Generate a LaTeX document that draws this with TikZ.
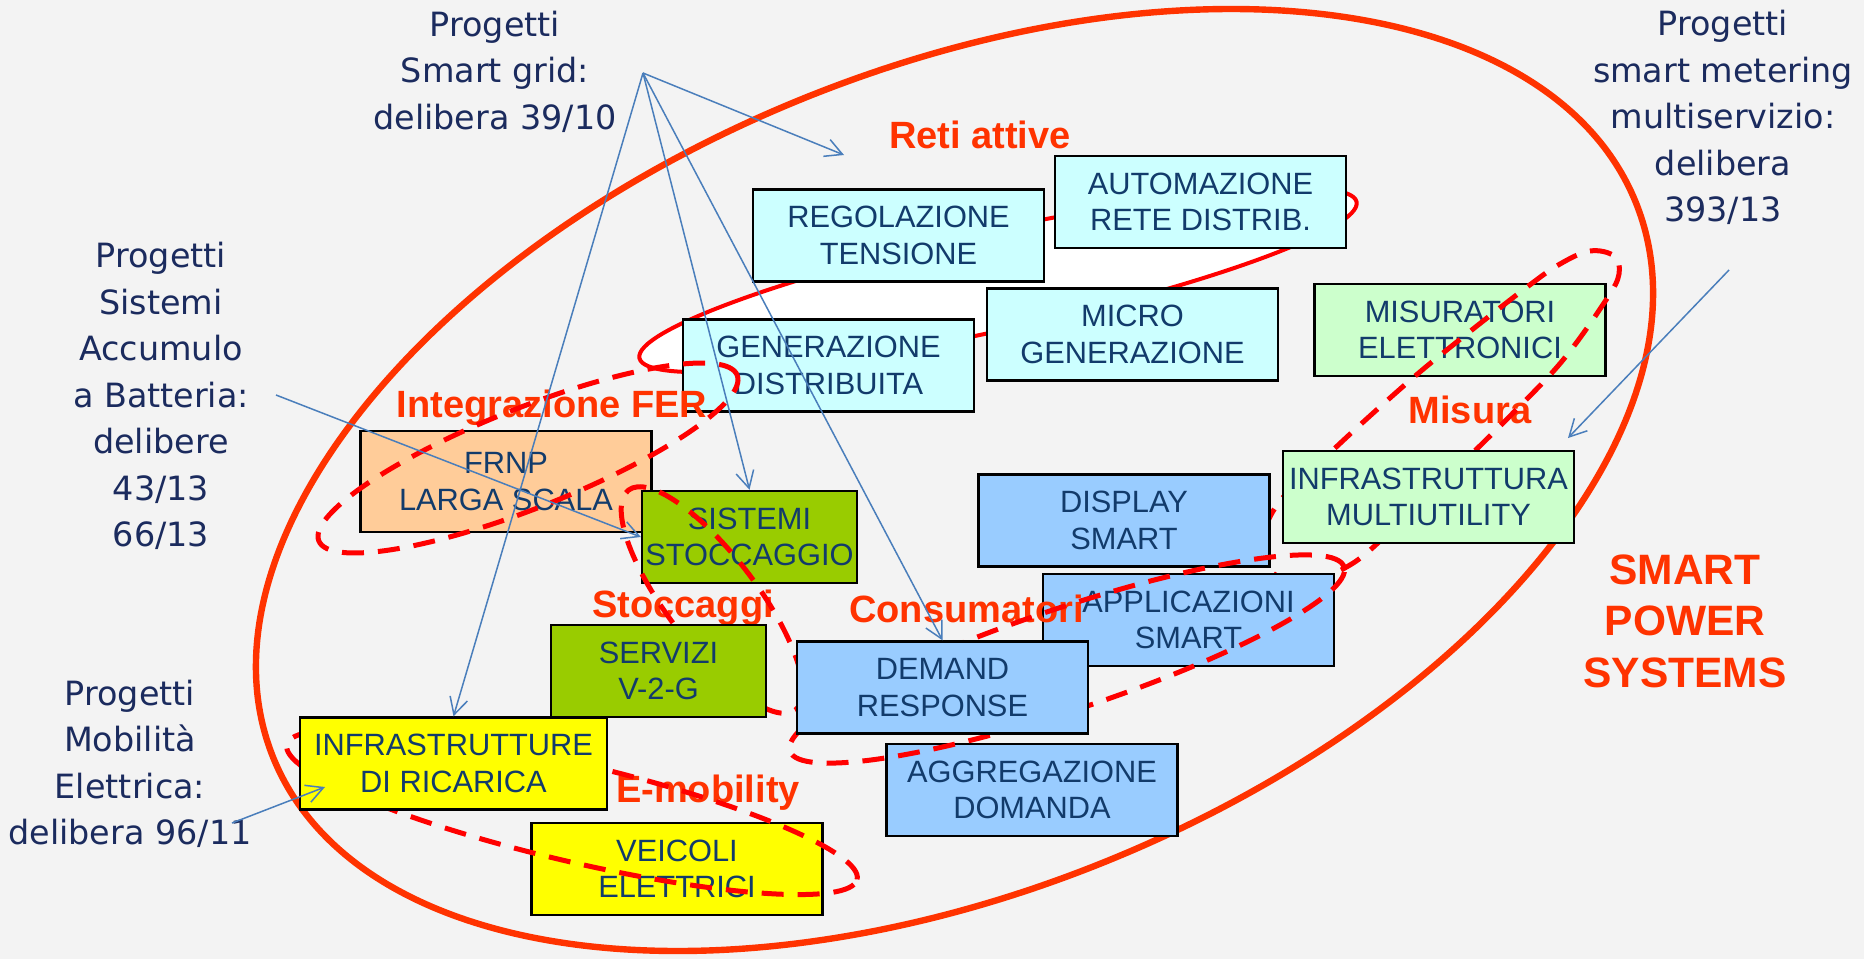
\documentclass[tikz,border=0pt]{standalone}
\usepackage{fontspec}
\setmainfont{Liberation Sans}
\newfontfamily\dejavu{DejaVu Sans}
\usetikzlibrary{arrows.meta}
\definecolor{bg}{HTML}{F3F3F3}
\definecolor{ringred}{HTML}{FF3300}
\definecolor{loopred}{HTML}{FF0000}
\definecolor{labred}{HTML}{FF3300}
\definecolor{boxtext}{HTML}{123B6B}
\definecolor{projcol}{HTML}{1B2B5E}
\definecolor{arrowblue}{HTML}{4A7EBB}
\definecolor{cyanbox}{HTML}{CCFFFF}
\definecolor{mintbox}{HTML}{CCFFCC}
\definecolor{bluebox}{HTML}{99CCFF}
\definecolor{peachbox}{HTML}{FFCC99}
\definecolor{olivebox}{HTML}{99CC00}
\definecolor{yellowbox}{HTML}{FFFF00}
\tikzset{
  box/.style={draw=black, line width=1.2pt, align=center, inner sep=0pt,
    font=\fontsize{15.4}{18.35}\selectfont, text=boxtext,
    minimum width=145.5pt, minimum height=46pt},
  projtext/.style={font=\dejavu\fontsize{16.7}{23.25}\selectfont, text=projcol, align=center, inner sep=0pt},
  redlab/.style={font=\bfseries\fontsize{19}{22}\selectfont, text=labred, inner sep=0pt},
  bigring/.style={draw=ringred, line width=3.2pt},
  solidloop/.style={draw=loopred, line width=2pt, fill=white},
  dashloop/.style={draw=loopred, line width=2.5pt, dash pattern=on 11pt off 7pt},
  bluearrow/.style={draw=arrowblue, line width=0.75pt, -{Straight Barb[length=8.5pt,width=9pt,line width=0.75pt]}}
}
\begin{document}
\begin{tikzpicture}[x=0.5pt,y=-0.5pt]
\fill[bg] (0,0) rectangle (1864,959);
\useasboundingbox (0,0) rectangle (1864,959);

% big ring
\draw[bigring, rotate around={22.24:(954.5,480)}] (954.5,480) ellipse [x radius=367.85pt, y radius=205.2pt];

% Reti attive loop
\draw[solidloop, rotate around={12.3:(998,280)}] (998,280) ellipse [x radius=183.5pt, y radius=25pt];
\node[box, fill=cyanbox] (reg) at (898.5,235.5) {REGOLAZIONE\\TENSIONE};
\node[box, fill=cyanbox] (auto) at (1200.5,202) {AUTOMAZIONE\\RETE DISTRIB.};
\node[box, fill=cyanbox] (micro) at (1132.5,334.5) {MICRO\\GENERAZIONE};
\node[box, fill=cyanbox] (gend) at (828.5,365.5) {GENERAZIONE\\DISTRIBUITA};
\node[redlab, anchor=base] (lreti) at (980,148) {Reti attive};

% Integrazione FER
\node[box, fill=peachbox, minimum height=50.5pt] (frnp) at (506,481.5) {FRNP\\LARGA SCALA};
\node[redlab, anchor=base] (lfer) at (552,417) {Integrazione FER};
\draw[dashloop, rotate around={21.6:(528,458)}] (528,458) ellipse [x radius=112.5pt, y radius=25pt];

% Stoccaggi
\node[box, fill=olivebox, minimum width=107.5pt] (sist) at (749.5,537) {SISTEMI\\STOCCAGGIO};
\node[redlab, anchor=base] (lsto) at (683,617) {Stoccaggi};
\draw[dashloop, rotate around={-52.8:(712,600)}] (712,600) ellipse [x radius=69pt, y radius=22.5pt];
\node[box, fill=olivebox, minimum width=107.5pt] (serv) at (658.5,671) {SERVIZI\\V-2-G};

% Misura
\node[box, fill=mintbox] (misur) at (1460,330) {MISURATORI\\ELETTRONICI};
\node[redlab, anchor=base] (lmis) at (1470,423) {Misura};
\draw[dashloop] plot[smooth cycle, tension=0.6] coordinates {(1560,264) (1590,251) (1614,256) (1619,274) (1606,300) (1563,360) (1513,413) (1455,470) (1395,527) (1350,565) (1300,583) (1262,560) (1275,508) (1333,450) (1407,383) (1463,337) (1527,287)};
\node[box, fill=mintbox] (infmu) at (1428.5,497) {INFRASTRUTTURA\\MULTIUTILITY};

% Consumatori
\node[box, fill=bluebox] (disp) at (1124,520.5) {DISPLAY\\SMART};
\node[box, fill=bluebox] (appl) at (1188.5,620) {APPLICAZIONI\\SMART};
\node[box, fill=bluebox] (aggr) at (1032,790) {AGGREGAZIONE\\DOMANDA};
\node[redlab, anchor=base] (lcons) at (966.5,622) {Consumatori};
\draw[dashloop, rotate around={18.4:(1067,659)}] (1067,659) ellipse [x radius=146pt, y radius=25.5pt];
\node[box, fill=bluebox] (dem) at (942.5,687.5) {DEMAND\\RESPONSE};

% E-mobility
\node[box, fill=yellowbox] (veic) at (677,869) {VEICOLI\\ELETTRICI};
\node[redlab, anchor=base] (lemob) at (708,802) {E-mobility};
\draw[dashloop, rotate around={-13.3:(572,812)}] (572,812) ellipse [x radius=146.5pt, y radius=24.5pt];
\node[box, fill=yellowbox, minimum width=153.5pt] (infric) at (453.5,763.5) {INFRASTRUTTURE\\DI RICARICA};

% SMART POWER SYSTEMS
\node[font=\bfseries\fontsize{21.25}{25.75}\selectfont, text=labred, align=center, inner sep=0pt] (sps) at (1685,621.3) {SMART\\POWER\\SYSTEMS};

% project texts
\node[projtext] (psg) at (495,71.5) {Progetti\\Smart grid:\\delibera 39/10};
\node[projtext] (psa) at (161,396) {Progetti\\Sistemi\\Accumulo\\a Batteria:\\delibere\\43/13\\66/13};
\node[projtext] (pme) at (130,764) {Progetti\\Mobilità\\Elettrica:\\delibera 96/11};
\node[projtext] (psm) at (1723,117.4) {Progetti\\smart metering\\multiservizio:\\delibera\\393/13};

% connectors
\coordinate (sg) at (643,73);
\coordinate (retitip) at (844,155);
\coordinate (bat) at (276,395);
\coordinate (mob) at (232,823);
\coordinate (mobtip) at (325,787);
\coordinate (smm) at (1729,270);
\coordinate (smmtip) at (1568,438);
\draw[bluearrow] (sg) -- (retitip);
\draw[bluearrow] (sg) -- (infric.north);
\draw[bluearrow] (sg) -- (sist.north);
\draw[bluearrow] (sg) -- (dem.north);
\draw[bluearrow] (bat) -- (sist.west);
\draw[bluearrow] (mob) -- (mobtip);
\draw[bluearrow] (smm) -- (smmtip);
\end{tikzpicture}
\end{document}
